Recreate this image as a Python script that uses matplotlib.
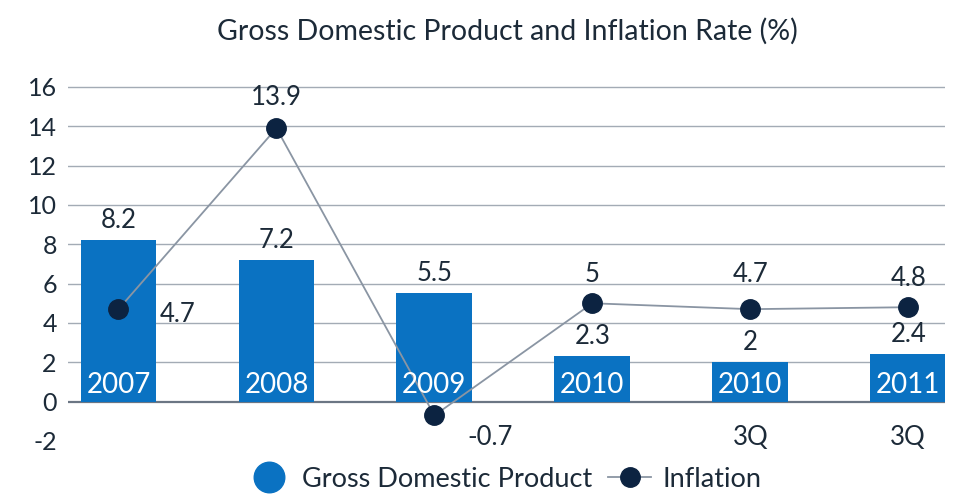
import matplotlib.pyplot as plt
from matplotlib.lines import Line2D

plt.rcParams['font.family'] = ['Lato', 'DejaVu Sans']

years = ['2007', '2008', '2009', '2010', '2010', '2011']
quarters = ['', '', '', '', '3Q', '3Q']
gdp = [8.2, 7.2, 5.5, 2.3, 2, 2.4]
inflation = [4.7, 13.9, -0.7, 5, 4.7, 4.8]
yticks = [-2, 0, 2, 4, 6, 8, 10, 12, 14, 16]

bar_color = '#0a72c2'
dot_color = '#0c2341'
line_color = '#8a95a3'
text_color = '#1c2a38'

fig = plt.figure(figsize=(9.57, 4.97), dpi=100)
ax = fig.add_axes([0.071, 0.085, 0.916, 0.76])

x = list(range(len(years)))

# grid lines from 0 up to 16
for t in yticks:
    if t < 0:
        continue
    ax.axhline(t, color='#6b7684' if t == 0 else '#a3abb5',
               lw=1.6 if t == 0 else 1.0, zorder=0)

ax.bar(x, gdp, width=0.48, color=bar_color, zorder=2)
ax.plot(x, inflation, color=line_color, lw=1.3, marker='o', markersize=14,
        markerfacecolor=dot_color, markeredgecolor=dot_color, zorder=3)

# GDP values above bars, year inside bars
for xi, v, yr in zip(x, gdp, years):
    ax.annotate(str(v), (xi, v), xytext=(0, 5), textcoords='offset points',
                ha='center', va='bottom', fontsize=18.5, color=text_color, zorder=4)
    ax.text(xi, 0.85, yr, ha='center', va='center', fontsize=20,
            color='white', zorder=4)

# inflation values
infl_offsets = [(30, -4, 'left'), (0, 13, 'center'), (24, -16, 'left'),
                (0, 12, 'center'), (0, 16, 'center'), (0, 12, 'center')]
for xi, v, (dx, dy, ha) in zip(x, inflation, infl_offsets):
    ax.annotate(str(v), (xi, v), xytext=(dx, dy), textcoords='offset points',
                ha=ha, va='center' if ha == 'left' else 'bottom',
                fontsize=18.5, color=text_color, zorder=4)

for xi, q in zip(x, quarters):
    if q:
        ax.text(xi, -1.8, q, ha='center', va='center', fontsize=18.5, color=text_color)

ax.set_xlim(-0.32, 5.23)
ax.set_ylim(-2.7, 16.5)
ax.set_xticks([])
ax.set_yticks(yticks)
ax.set_yticklabels([str(t) for t in yticks], fontsize=18, color=text_color)
ax.tick_params(axis='y', length=0, pad=8)
for s in ax.spines.values():
    s.set_visible(False)

fig.suptitle('Gross Domestic Product and Inflation Rate (%)', x=0.53, y=0.965,
             fontsize=20.5, color=text_color)

handles = [
    Line2D([], [], linestyle='none', marker='o', markersize=22,
           markerfacecolor=bar_color, markeredgecolor=bar_color),
    Line2D([], [], color=line_color, lw=1.3, marker='o', markersize=14,
           markerfacecolor=dot_color, markeredgecolor=dot_color),
]
fig.legend(handles, ['Gross Domestic Product', 'Inflation'], loc='lower center',
           bbox_to_anchor=(0.527, -0.038), ncol=2, frameon=False, fontsize=19.5,
           handletextpad=0.4, columnspacing=0.6, handlelength=1.6,
           labelcolor=text_color)

fig.savefig('out.png', dpi=100)
